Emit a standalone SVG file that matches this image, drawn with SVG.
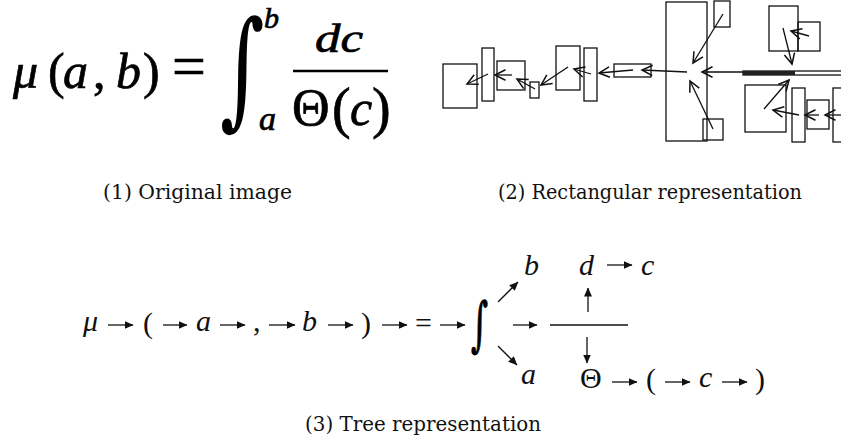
<svg xmlns="http://www.w3.org/2000/svg" width="841" height="442" viewBox="0 0 841 442">
<style>
.fm{font-family:"Liberation Serif","DejaVu Serif",serif;fill:#000;stroke:#000;stroke-width:0.7}
.ig{font-family:"DejaVu Serif",serif;fill:#000}
.it{font-style:italic}
.cap{font-family:"DejaVu Serif",serif;font-size:20px;fill:#111}
.tr{font-family:"Liberation Serif","DejaVu Serif",serif;font-size:30px;fill:#111}
.box{fill:none;stroke:#111;stroke-width:1.3}
.ra{fill:none;stroke:#111;stroke-width:1.3;marker-end:url(#v)}
.ta{fill:none;stroke:#111;stroke-width:1.3;marker-end:url(#tri)}
</style>
<defs>
<marker id="v" markerUnits="userSpaceOnUse" markerWidth="14" markerHeight="14" viewBox="-1 -1 12 12" refX="9" refY="5" orient="auto">
<path d="M0,0.5 L9,5 L0,9.5" fill="none" stroke="#111" stroke-width="1.3"/>
</marker>
<marker id="tri" markerUnits="userSpaceOnUse" markerWidth="9" markerHeight="8" viewBox="0 0 9 8" refX="8.5" refY="4" orient="auto">
<path d="M0,0 L9,4 L0,8 z" fill="#111"/>
</marker>
</defs>
<rect width="841" height="442" fill="#fff"/>

<g id="formula">
<text class="fm it" x="13" y="88" font-size="50">μ</text>
<text class="fm" x="48" y="88" font-size="50">(</text>
<text class="fm it" x="63" y="88" font-size="50">a</text>
<text class="fm" x="93" y="88" font-size="50">,</text>
<text class="fm it" x="116" y="88" font-size="50">b</text>
<text class="fm" x="143" y="88" font-size="50">)</text>
<text class="fm" x="172" y="86" font-size="60">=</text>
<text class="ig" transform="translate(220,112) scale(0.95,1.42)" font-size="90">∫</text>
<text class="fm it" x="264" y="28" font-size="30">b</text>
<text class="fm it" x="259" y="130" font-size="34">a</text>
<text class="fm it" x="315" y="52" font-size="40" textLength="48" lengthAdjust="spacingAndGlyphs">dc</text>
<line x1="293" y1="71" x2="388" y2="71" stroke="#000" stroke-width="2.5"/>
<text class="fm" x="292" y="125" font-size="52">Θ</text>
<text class="fm" x="332" y="127" font-size="56">(</text>
<text class="fm it" x="350" y="125" font-size="50">c</text>
<text class="fm" x="372" y="127" font-size="56">)</text>
</g>

<g id="rect-nodes">
<rect id="r1" class="box" x="443" y="64" width="34" height="44"/>
<rect id="r2" class="box" x="482" y="48" width="12" height="53"/>
<rect id="r3" class="box" x="497" y="61" width="28" height="29"/>
<rect id="r4" class="box" x="530" y="82" width="9" height="16"/>
<rect id="r5" class="box" x="556" y="46" width="24" height="44"/>
<rect id="r6" class="box" x="584" y="48" width="13" height="53"/>
<rect id="r7" class="box" x="614" y="64" width="37" height="13"/>
<rect id="r8" class="box" x="666" y="2" width="41" height="139"/>
<rect id="r9" class="box" x="714" y="1" width="16" height="26"/>
<rect id="r10" class="box" x="703" y="119" width="20" height="21"/>
<rect id="r11" class="box" x="769" y="6" width="29" height="45"/>
<rect id="r12" class="box" x="798" y="22" width="22" height="29"/>
<g id="r13"><rect class="box" x="743" y="71" width="110" height="4"/><rect x="743" y="71" width="52" height="4" fill="#222"/></g>
<rect id="r14" class="box" x="745" y="85" width="41" height="47"/>
<rect id="r15" class="box" x="792" y="88" width="13" height="54"/>
<rect id="r16" class="box" x="807" y="100" width="22" height="29"/>
<rect id="r17" class="box" x="833" y="88" width="20" height="54"/>
</g>
<g id="rect-connectors">
<line class="ra" x1="723" y1="14" x2="693" y2="63"/>
<line class="ra" x1="743" y1="72" x2="702" y2="72"/>
<line class="ra" x1="687" y1="72" x2="642" y2="70"/>
<line class="ra" x1="713" y1="129" x2="690" y2="81"/>
<line class="ra" x1="633" y1="70" x2="599" y2="73"/>
<line class="ra" x1="591" y1="74" x2="574" y2="69"/>
<line class="ra" x1="568" y1="67" x2="541" y2="85"/>
<line class="ra" x1="535" y1="89" x2="517" y2="79"/>
<line class="ra" x1="512" y1="75" x2="495" y2="75"/>
<line class="ra" x1="488" y1="74" x2="467" y2="84"/>
<line class="ra" x1="809" y1="36" x2="791" y2="31"/>
<line class="ra" x1="783" y1="28" x2="792" y2="64"/>
<line class="ra" x1="764" y1="109" x2="789" y2="80"/>
<line class="ra" x1="799" y1="115" x2="773" y2="110"/>
<line class="ra" x1="819" y1="115" x2="805" y2="115"/>
<line class="ra" x1="845" y1="115" x2="825" y2="115"/>
</g>

<g id="captions">
<text class="cap" x="103" y="199" textLength="189" lengthAdjust="spacingAndGlyphs">(1) Original image</text>
<text class="cap" x="498" y="199" textLength="304" lengthAdjust="spacingAndGlyphs">(2) Rectangular representation</text>
<text class="cap" x="305" y="431" textLength="236" lengthAdjust="spacingAndGlyphs">(3) Tree representation</text>
</g>

<g id="tree-nodes">
<text id="t-mu" class="tr it" x="83" y="331">μ</text>
<text id="t-lp" class="tr" x="143" y="333">(</text>
<text id="t-a" class="tr it" x="196" y="331">a</text>
<text id="t-comma" class="tr" x="253" y="331">,</text>
<text id="t-b" class="tr it" x="302" y="331">b</text>
<text id="t-rp" class="tr" x="361" y="333">)</text>
<text id="t-eq" class="tr" x="415" y="333">=</text>
<text id="t-int" class="ig" transform="translate(471,343.5) scale(0.78,1.4)" font-size="42" stroke="#000" stroke-width="0.8">∫</text>
<text id="t-b2" class="tr it" x="524" y="275">b</text>
<text id="t-a2" class="tr it" x="521" y="384">a</text>
<line id="t-frac" x1="550" y1="325" x2="628" y2="325" stroke="#111" stroke-width="1.3"/>
<text id="t-d" class="tr it" x="579" y="275">d</text>
<text id="t-c1" class="tr it" x="641" y="275">c</text>
<text id="t-theta" class="tr" x="580" y="388" font-size="22">Θ</text>
<text id="t-lp2" class="tr" x="646" y="389">(</text>
<text id="t-c2" class="tr it" x="699" y="387">c</text>
<text id="t-rp2" class="tr" x="755" y="389">)</text>
</g>
<g id="tree-connectors">
<line class="ta" x1="108" y1="325" x2="133" y2="325"/>
<line class="ta" x1="163" y1="325" x2="187" y2="325"/>
<line class="ta" x1="220" y1="325" x2="245" y2="325"/>
<line class="ta" x1="269" y1="325" x2="295" y2="325"/>
<line class="ta" x1="328" y1="325" x2="353" y2="325"/>
<line class="ta" x1="382" y1="325" x2="407" y2="325"/>
<line class="ta" x1="440" y1="325" x2="465" y2="325"/>
<line class="ta" x1="498" y1="302" x2="518" y2="282"/>
<line class="ta" x1="498" y1="346" x2="517" y2="365"/>
<line class="ta" x1="513" y1="325" x2="537" y2="325"/>
<line class="ta" x1="588" y1="312" x2="588" y2="288"/>
<line class="ta" x1="587" y1="337" x2="587" y2="363"/>
<line class="ta" x1="607" y1="265" x2="632" y2="265"/>
<line class="ta" x1="612" y1="382" x2="637" y2="382"/>
<line class="ta" x1="665" y1="382" x2="690" y2="382"/>
<line class="ta" x1="722" y1="382" x2="747" y2="382"/>
</g>
</svg>
